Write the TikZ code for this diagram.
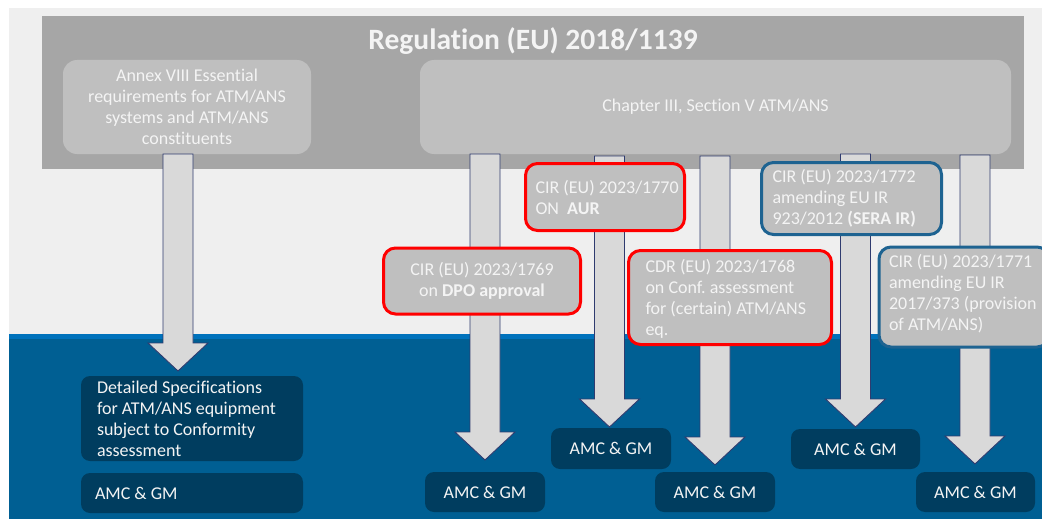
\documentclass[tikz,border=0pt]{standalone}
\usepackage{fontspec}
\setmainfont{Carlito}[Ligatures=NoCommon]
\usetikzlibrary{calc}
\frenchspacing

\definecolor{paleBg}{HTML}{EFEFEF}
\definecolor{regGrey}{HTML}{A6A6A6}
\definecolor{boxGrey}{HTML}{BFBFBF}
\definecolor{arrowFill}{HTML}{D9D9D9}
\definecolor{arrowLine}{HTML}{2F3B6F}
\definecolor{seaBlue}{HTML}{005F93}
\definecolor{stripeBlue}{HTML}{0072BC}
\definecolor{navyBox}{HTML}{003D5F}
\definecolor{redLine}{HTML}{FF0000}
\definecolor{blueLine}{HTML}{1E6391}
\definecolor{softWhite}{HTML}{F4F4F4}

\tikzset{
  every node/.style={font=\fontsize{18}{21}\selectfont, inner sep=0pt, outer sep=0pt},
  greybox/.style={fill=boxGrey, rounded corners=14pt, text=softWhite},
  redbox/.style={greybox, draw=redLine, line width=3pt, rounded corners=12pt},
  bluebox/.style={greybox, draw=blueLine, line width=3pt, rounded corners=12pt},
  navybox/.style={fill=navyBox, rounded corners=9pt, text=softWhite},
  blockarrow/.style={fill=arrowFill, draw=arrowLine, line width=0.9pt, line join=miter},
  boxsize/.style 2 args={minimum width=#1, minimum height=#2},
  % left-aligned text block placed inside a box
  lefttext/.style={anchor=west, align=left, text=softWhite},
}

% broad downward block arrow between two named coordinates
\newcommand{\blockdown}[2]{%
  \draw[blockarrow] let \p1=(#1), \p2=(#2) in
    (\x1-15pt,\y1) -- (\x1-15pt,\y2+28pt) -- (\x1-30pt,\y2+28pt) -- (\x1,\y2)
    -- (\x1+30pt,\y2+28pt) -- (\x1+15pt,\y2+28pt) -- (\x1+15pt,\y1) -- cycle;}

\begin{document}
\begin{tikzpicture}[x=1pt, y=-1pt]
\useasboundingbox (0,0) rectangle (1042,519);
\fill[white] (0,0) rectangle (1042,519);

% backgrounds
\fill[paleBg] (9,8) rectangle (1042,335);
\fill[stripeBlue] (9,334) rectangle (1042,339);
\fill[seaBlue] (9,339) rectangle (1042,519);

% regulation frame
\node[fill=regGrey, boxsize={982}{153}] (reg) at (533,92.5) {};
\node[anchor=base, text=softWhite, font=\fontsize{29.5}{35}\selectfont\bfseries] (regtitle) at (533,50)
  {Regulation (EU) 2018/1139};

\node[greybox, boxsize={248}{94}, align=center] (annex) at (187,107)
  {Annex VIII Essential\\requirements for ATM/ANS\\systems and ATM/ANS\\constituents};
\node[greybox, boxsize={591}{94}, align=center] (chapter) at (715.5,107)
  {Chapter III, Section V ATM/ANS};

% arrow ends
\coordinate (a1s) at (178,154);   \coordinate (a1e) at (178,371);
\coordinate (a2s) at (485,154);   \coordinate (a2e) at (485,460);
\coordinate (a3s) at (609.5,156); \coordinate (a3e) at (609.5,427);
\coordinate (a4s) at (715,156);   \coordinate (a4e) at (715,465);
\coordinate (a5s) at (855.5,154); \coordinate (a5e) at (855.5,427);
\coordinate (a6s) at (975,155);   \coordinate (a6e) at (975,464);

\blockdown{a1s}{a1e}
\blockdown{a2s}{a2e}
\blockdown{a3s}{a3e}
\blockdown{a4s}{a4e}
\blockdown{a5s}{a5e}
\blockdown{a6s}{a6e}

% implementing rules
\node[redbox, boxsize={159}{67}] (aur) at (605,197) {};
\node[lefttext] (aurtext) at ($(aur.west)+(10,0)$) {CIR (EU) 2023/1770\\ON\ \ \textbf{AUR}};

\node[redbox, boxsize={197}{66}, align=center] (dpo) at (482,281)
  {CIR (EU) 2023/1769\\on \textbf{DPO approval}};

\node[redbox, boxsize={203}{94}] (cdr) at (730,297.5) {};
\node[lefttext] (cdrtext) at ($(cdr.west)+(17,1.5)$)
  {CDR (EU) 2023/1768\\on Conf. assessment\\for (certain) ATM/ANS\\eq.};

\node[bluebox, boxsize={180}{72}] (sera) at (851.5,198.5) {};
\node[lefttext] (seratext) at ($(sera.west)+(11,0)$)
  {CIR (EU) 2023/1772\\amending EU IR\\923/2012 \textbf{(SERA IR)}};

\node[bluebox, boxsize={170}{100}] (ansp) at (964,297) {};
\node[lefttext] (ansptext) at ($(ansp.west)+(10,-3)$)
  {CIR (EU) 2023/1771\\amending EU IR\\2017/373 (provision\\of ATM/ANS)};

% specifications and acceptable means
\node[navybox, boxsize={222}{85}] (spec) at (192,418.5) {};
\node[lefttext] (spectext) at ($(spec.west)+(16,0)$)
  {Detailed Specifications\\for ATM/ANS equipment\\subject to Conformity\\assessment};
\node[navybox, boxsize={222}{40}] (amc0) at (192,493) {};
\node[lefttext] (amc0text) at ($(amc0.west)+(14,0)$) {AMC \& GM};

\node[navybox, boxsize={120}{40}] (amc1) at (485,492) {AMC \& GM};
\node[navybox, boxsize={120}{41}] (amc2) at (611,448.5) {AMC \& GM};
\node[navybox, boxsize={120}{40}] (amc3) at (715,492) {AMC \& GM};
\node[navybox, boxsize={129}{40}] (amc4) at (855.5,449) {AMC \& GM};
\node[navybox, boxsize={119}{40}] (amc5) at (975.5,492) {AMC \& GM};
\end{tikzpicture}
\end{document}
